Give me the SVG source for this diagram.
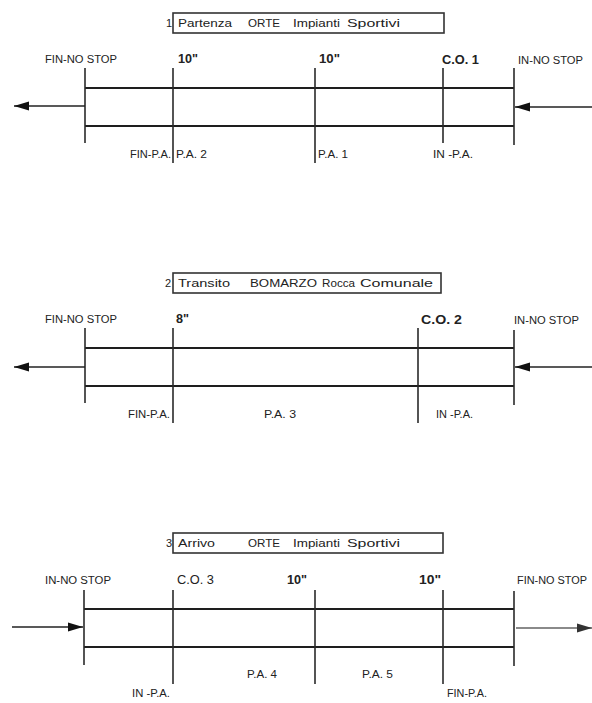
<svg xmlns="http://www.w3.org/2000/svg" width="592" height="703" viewBox="0 0 592 703">
<defs>
<style>
text{font-family:"Liberation Sans",Arial,sans-serif;fill:#222;}
.t{font-size:11px;}
.n{font-size:11px;}
.l{font-size:10px;}
.b{font-size:12px;font-weight:bold;}
.c{font-size:12px;}
.box{fill:none;stroke:#333;stroke-width:1.6;}
.h{stroke:#1e1e1e;stroke-width:2;fill:none;}
.v{stroke:#2a2a2a;stroke-width:1.6;fill:none;}
.a{stroke:#222;stroke-width:1.5;fill:none;}
.ag{stroke:#8a8a8a;stroke-width:2;fill:none;}
</style>
<marker id="ah" markerUnits="userSpaceOnUse" markerWidth="16" markerHeight="10" refX="15" refY="5" orient="auto">
<path d="M0,0.5 L15,5 L0,9.5 Z" fill="#111"/>
</marker>
<marker id="ahg" markerUnits="userSpaceOnUse" markerWidth="16" markerHeight="10" refX="15" refY="5" orient="auto">
<path d="M0,0.5 L15,5 L0,9.5 Z" fill="#333"/>
</marker>
</defs>
<rect width="592" height="703" fill="#ffffff"/>

<!-- Section 1 -->
<g id="title1">
<text class="n" x="166" y="27">1</text>
<rect class="box" x="173" y="13" width="271" height="20"/>
<text class="t" y="27"><tspan x="178" textLength="54" lengthAdjust="spacingAndGlyphs">Partenza</tspan><tspan x="248" textLength="32" lengthAdjust="spacingAndGlyphs">ORTE</tspan><tspan x="293" textLength="47" lengthAdjust="spacingAndGlyphs">Impianti</tspan><tspan x="347" textLength="53" lengthAdjust="spacingAndGlyphs">Sportivi</tspan></text>
</g>
<g id="track1">
<line class="h" x1="85" y1="88" x2="514" y2="88"/>
<line class="h" x1="85" y1="126" x2="514" y2="126"/>
</g>
<g id="s1-fin">
<line class="v" x1="85" y1="68" x2="85" y2="143"/>
<text class="l" x="45" y="63" textLength="72" lengthAdjust="spacingAndGlyphs">FIN-NO STOP</text>
</g>
<g id="s1-pa2">
<line class="v" x1="173" y1="68" x2="173" y2="163"/>
<text class="b" x="178" y="63" textLength="20" lengthAdjust="spacingAndGlyphs">10"</text>
<text class="l" x="130" y="158" textLength="41" lengthAdjust="spacingAndGlyphs">FIN-P.A.</text>
<text class="l" x="176" y="158" textLength="31" lengthAdjust="spacingAndGlyphs">P.A. 2</text>
</g>
<g id="s1-pa1">
<line class="v" x1="315" y1="68" x2="315" y2="163"/>
<text class="b" x="319" y="63" textLength="21" lengthAdjust="spacingAndGlyphs">10"</text>
<text class="l" x="318" y="158" textLength="30" lengthAdjust="spacingAndGlyphs">P.A. 1</text>
</g>
<g id="s1-co1">
<line class="v" x1="443" y1="68" x2="443" y2="143"/>
<text class="b" x="442" y="64" textLength="37" lengthAdjust="spacingAndGlyphs">C.O. 1</text>
<text class="l" x="433" y="158" textLength="40" lengthAdjust="spacingAndGlyphs">IN -P.A.</text>
</g>
<g id="s1-in">
<line class="v" x1="514" y1="68" x2="514" y2="145"/>
<text class="l" x="518" y="64" textLength="65" lengthAdjust="spacingAndGlyphs">IN-NO STOP</text>
</g>

<!-- Section 2 -->
<g id="title2">
<text class="n" x="165" y="287">2</text>
<rect class="box" x="173" y="273" width="268" height="20"/>
<text class="t" y="287"><tspan x="178" textLength="52" lengthAdjust="spacingAndGlyphs">Transito</tspan><tspan x="250" textLength="67" lengthAdjust="spacingAndGlyphs">BOMARZO</tspan><tspan x="322" textLength="33" lengthAdjust="spacingAndGlyphs">Rocca</tspan><tspan x="360" textLength="73" lengthAdjust="spacingAndGlyphs">Comunale</tspan></text>
</g>
<g id="track2">
<line class="h" x1="85" y1="348" x2="514" y2="348"/>
<line class="h" x1="85" y1="386" x2="514" y2="386"/>
</g>
<g id="s2-fin">
<line class="v" x1="85" y1="328" x2="85" y2="403"/>
<text class="l" x="45" y="323" textLength="72" lengthAdjust="spacingAndGlyphs">FIN-NO STOP</text>
</g>
<g id="s2-pa3">
<line class="v" x1="173" y1="328" x2="173" y2="423"/>
<text class="b" x="176" y="323" textLength="13" lengthAdjust="spacingAndGlyphs">8"</text>
<text class="l" x="128" y="418" textLength="42" lengthAdjust="spacingAndGlyphs">FIN-P.A.</text>
<text class="l" x="264" y="418" textLength="32" lengthAdjust="spacingAndGlyphs">P.A. 3</text>
</g>
<g id="s2-co2">
<line class="v" x1="418" y1="328" x2="418" y2="423"/>
<text class="b" x="421" y="324" textLength="41" lengthAdjust="spacingAndGlyphs">C.O. 2</text>
<text class="l" x="436" y="418" textLength="37" lengthAdjust="spacingAndGlyphs">IN -P.A.</text>
</g>
<g id="s2-in">
<line class="v" x1="514" y1="330" x2="514" y2="405"/>
<text class="l" x="514" y="324" textLength="65" lengthAdjust="spacingAndGlyphs">IN-NO STOP</text>
</g>

<!-- Section 3 -->
<g id="title3">
<text class="n" x="166" y="547">3</text>
<rect class="box" x="173" y="533" width="270" height="20"/>
<text class="t" y="547"><tspan x="178" textLength="37" lengthAdjust="spacingAndGlyphs">Arrivo</tspan><tspan x="248" textLength="32" lengthAdjust="spacingAndGlyphs">ORTE</tspan><tspan x="293" textLength="47" lengthAdjust="spacingAndGlyphs">Impianti</tspan><tspan x="347" textLength="53" lengthAdjust="spacingAndGlyphs">Sportivi</tspan></text>
</g>
<g id="track3">
<line class="h" x1="84" y1="609" x2="514" y2="609"/>
<line class="h" x1="84" y1="647" x2="514" y2="647"/>
</g>
<g id="s3-in">
<line class="v" x1="84" y1="590" x2="84" y2="665"/>
<text class="l" x="45" y="584" textLength="66" lengthAdjust="spacingAndGlyphs">IN-NO STOP</text>
</g>
<g id="s3-co3">
<line class="v" x1="173" y1="590" x2="173" y2="684"/>
<text class="c" x="177" y="584" textLength="37" lengthAdjust="spacingAndGlyphs">C.O. 3</text>
<text class="l" x="132" y="697" textLength="38" lengthAdjust="spacingAndGlyphs">IN -P.A.</text>
</g>
<g id="s3-pa4">
<line class="v" x1="315" y1="590" x2="315" y2="684"/>
<text class="b" x="287" y="584" textLength="20" lengthAdjust="spacingAndGlyphs">10"</text>
<text class="l" x="247" y="678" textLength="30" lengthAdjust="spacingAndGlyphs">P.A. 4</text>
</g>
<g id="s3-pa5">
<line class="v" x1="443" y1="590" x2="443" y2="684"/>
<text class="b" x="419" y="584" textLength="22" lengthAdjust="spacingAndGlyphs">10"</text>
<text class="l" x="362" y="678" textLength="31" lengthAdjust="spacingAndGlyphs">P.A. 5</text>
<text class="l" x="447" y="697" textLength="40" lengthAdjust="spacingAndGlyphs">FIN-P.A.</text>
</g>
<g id="s3-fin">
<line class="v" x1="514" y1="591" x2="514" y2="666"/>
<text class="l" x="517" y="584" textLength="70" lengthAdjust="spacingAndGlyphs">FIN-NO STOP</text>
</g>

<!-- Connectors -->
<g id="connectors">
<path class="a" d="M85,106 L14,106" marker-end="url(#ah)"/>
<path class="a" d="M592,107 L515,107" marker-end="url(#ah)"/>
<path class="a" d="M85,367 L14,367" marker-end="url(#ah)"/>
<path class="a" d="M592,367 L515,367" marker-end="url(#ah)"/>
<path class="a" d="M12,627 L83,627" marker-end="url(#ah)"/>
<path class="ag" d="M516,628 L592,628" marker-end="url(#ahg)"/>
</g>
</svg>
